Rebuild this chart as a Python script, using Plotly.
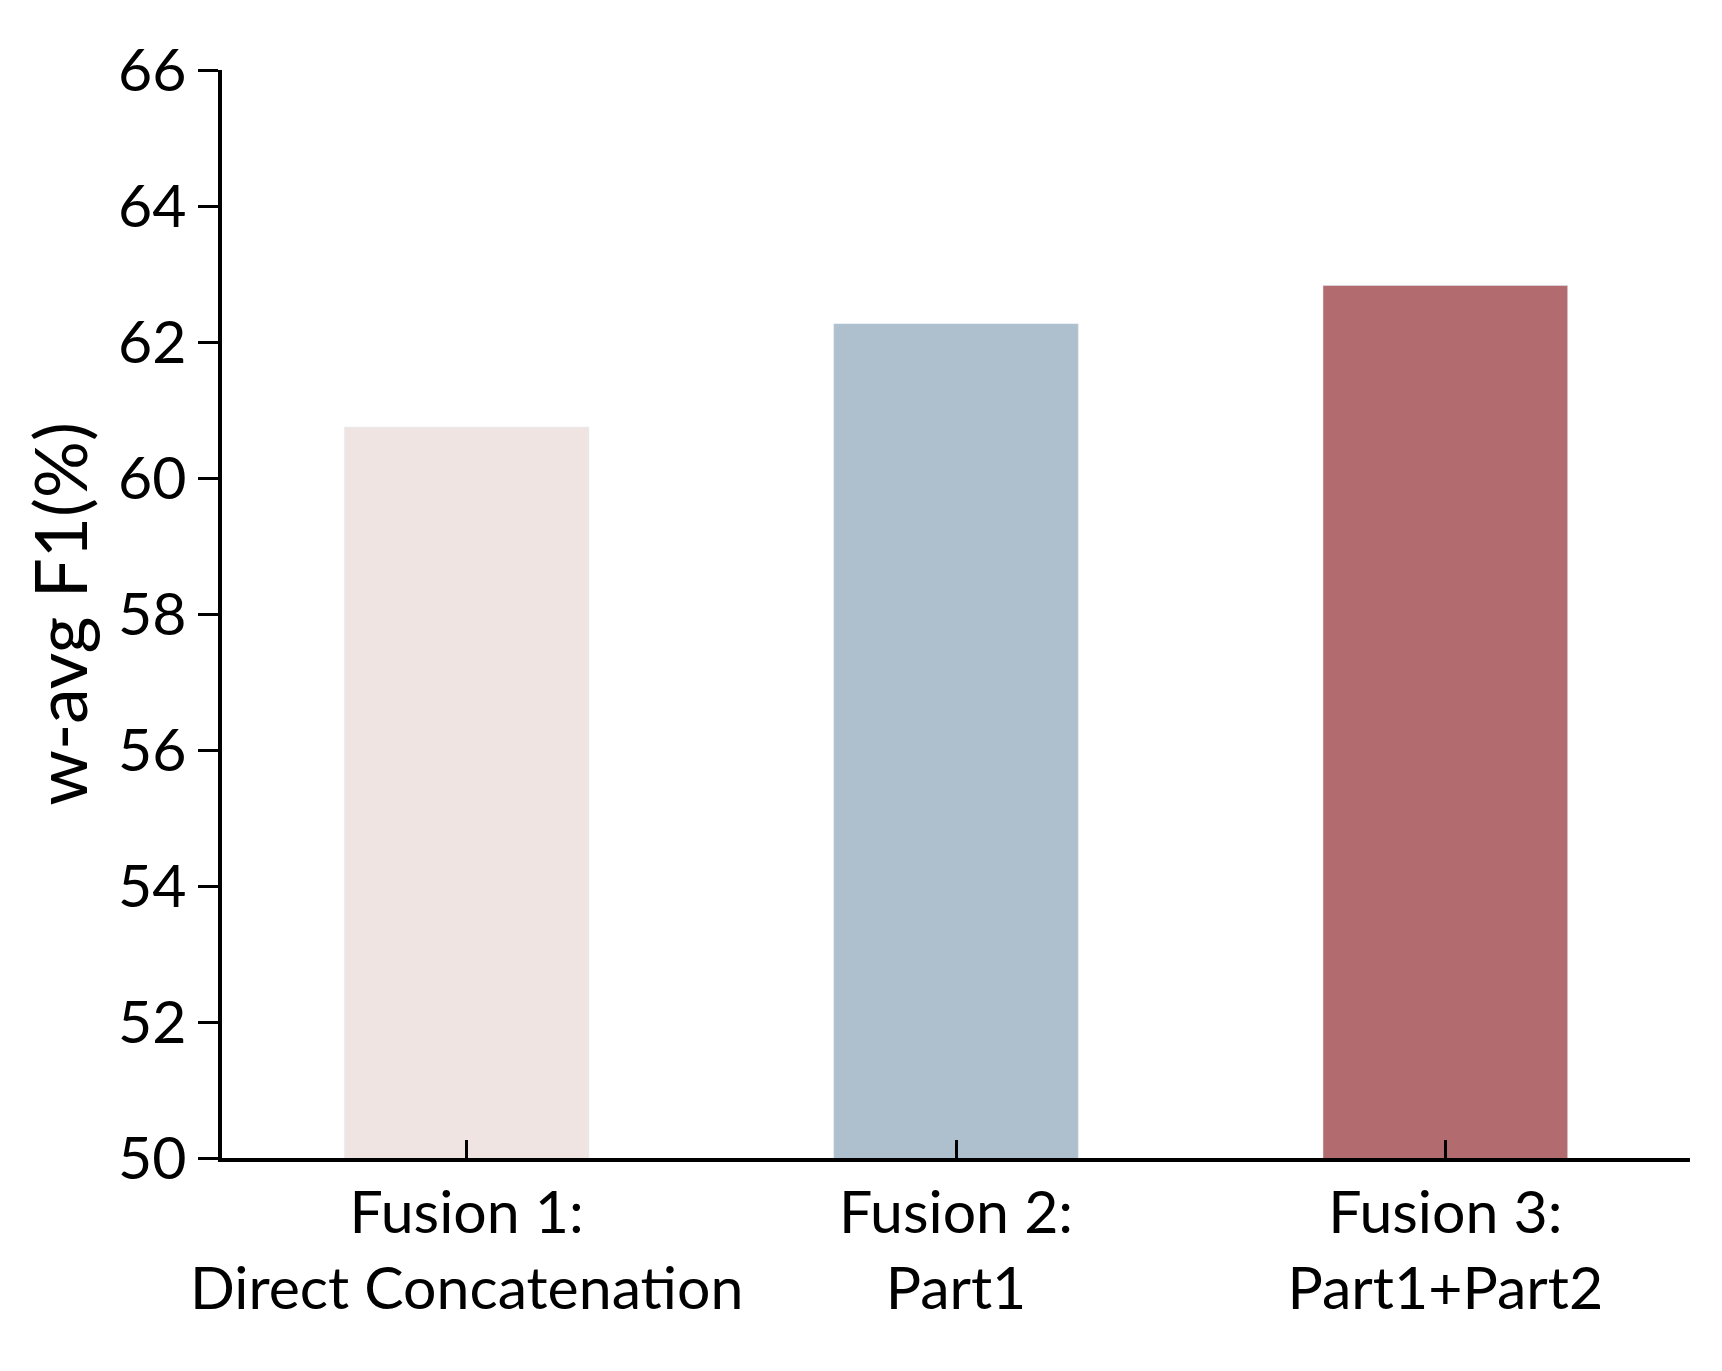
import plotly.graph_objects as go

categories = ["Fusion 1:<br>Direct Concatenation", "Fusion 2:<br>Part1", "Fusion 3:<br>Part1+Part2"]
values = [60.75, 62.27, 62.83]
colors = ["#EFE4E2", "#AEBFCD", "#B26B6E"]
yticks = [50, 52, 54, 56, 58, 60, 62, 64, 66]

fig = go.Figure(go.Bar(x=list(range(3)), y=values, marker_color=colors, width=0.5))
fig.update_layout(
    width=1722, height=1371, plot_bgcolor="white", paper_bgcolor="white",
    margin=dict(l=214, r=40, t=62, b=221),
    font=dict(family="Lato, Open Sans, sans-serif", size=59, color="black"),
    showlegend=False,
)
fig.update_xaxes(range=[-0.5, 2.5], tickvals=list(range(3)), ticktext=categories,
                 showline=True, linecolor="black", linewidth=3.5, ticks="inside",
                 ticklen=18, tickwidth=3, tickcolor="black", showgrid=False)
fig.update_yaxes(range=[50, 66], tickvals=yticks, showline=True, linecolor="black",
                 linewidth=3.5, ticks="outside", ticklen=20, tickwidth=3, tickcolor="black",
                 showgrid=False, zeroline=False, title=dict(text="w-avg F1(%)", standoff=8))
fig.write_html("out.html")
